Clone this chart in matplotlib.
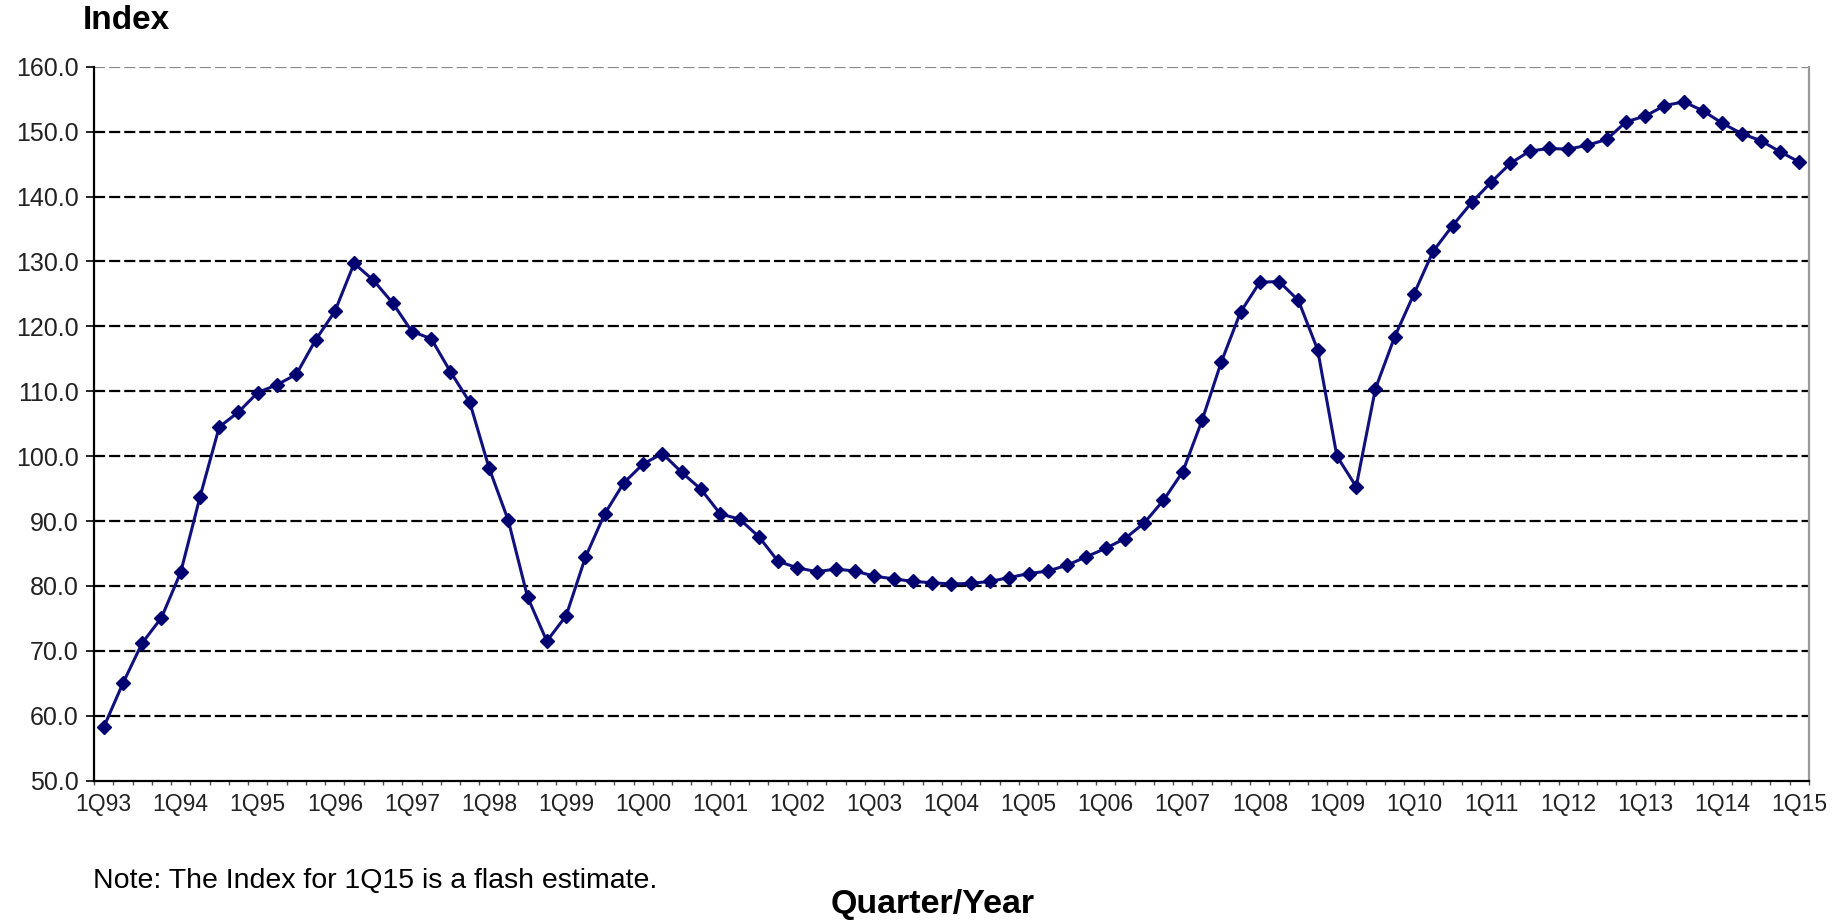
import matplotlib
matplotlib.use("Agg")
import matplotlib.pyplot as plt
import numpy as np

years = list(range(1993, 2016))
quarters = [f"{q}Q{y % 100:02d}" for y in years for q in range(1, 5)][:89]
index_values = [
    58.2, 65.0, 71.2, 75.1,
    82.1, 93.7, 104.5, 106.8,
    109.8, 111.0, 112.6, 117.9,
    122.3, 129.7, 127.1, 123.6,
    119.2, 118.1, 113.0, 108.3,
    98.2, 90.1, 78.3, 71.5,
    75.4, 84.4, 91.1, 95.9,
    98.8, 100.4, 97.5, 94.9,
    91.1, 90.3, 87.6, 83.8,
    82.8, 82.2, 82.6, 82.3,
    81.5, 81.1, 80.7, 80.5,
    80.3, 80.4, 80.7, 81.3,
    81.9, 82.3, 83.2, 84.5,
    85.8, 87.3, 89.7, 93.2,
    97.6, 105.5, 114.5, 122.2,
    126.8, 126.9, 124.0, 116.4,
    100.0, 95.3, 110.4, 118.4,
    125.0, 131.6, 135.5, 139.1,
    142.2, 145.1, 147.0, 147.4,
    147.3, 147.9, 148.8, 151.5,
    152.4, 154.0, 154.6, 153.2,
    151.3, 149.7, 148.6, 146.9,
    145.3,
]
y_ticks = [50, 60, 70, 80, 90, 100, 110, 120, 130, 140, 150, 160]

plt.rcParams['font.family'] = ['Liberation Sans', 'DejaVu Sans']

fig = plt.figure(figsize=(18.39, 9.24), dpi=100)
ax = fig.add_axes([0.0511, 0.1551, 0.9326, 0.7727])

x = np.arange(len(quarters))
ax.plot(x, index_values, color='#10107f', lw=2.2, marker='D', ms=7,
        mfc='#000070', mec='#000070', mew=1, zorder=3)

ax.set_xlim(-0.5, len(quarters) - 0.5)
ax.set_ylim(50, 160)

ax.set_yticks(y_ticks)
ax.set_yticklabels([f"{v:.1f}" for v in y_ticks], fontsize=18, color='#222222')
for v in y_ticks[1:]:
    ax.axhline(v, color='#000000' if v != 160 else '#888888', lw=1.6,
               ls=(0, (5, 1.8)), zorder=1)

major = x[::4]
ax.set_xticks(major)
ax.set_xticklabels([quarters[i] for i in major], fontsize=16.5, color='#222222')
ax.set_xticks(np.arange(len(quarters) + 1) - 0.5, minor=True)
ax.tick_params(axis='x', which='major', length=0, pad=9)
ax.tick_params(axis='x', which='minor', length=3, width=1, color='#555555')
ax.tick_params(axis='y', which='major', length=6, width=1.2, pad=5)

for s in ['left', 'bottom']:
    ax.spines[s].set_color('black')
    ax.spines[s].set_linewidth(1.6)
ax.spines['top'].set_visible(False)
ax.spines['right'].set_color('#999999')
ax.spines['right'].set_linewidth(1.6)

fig.text(0.045, 0.978, "Index", fontsize=24, fontweight='bold', ha='left', va='center')
fig.text(0.0506, 0.0465, "Note: The Index for 1Q15 is a flash estimate.", fontsize=20.5,
         ha='left', va='center')
fig.text(0.507, 0.0216, "Quarter/Year", fontsize=24.5, fontweight='bold', ha='center', va='center')

fig.savefig("out.png", dpi=100)
